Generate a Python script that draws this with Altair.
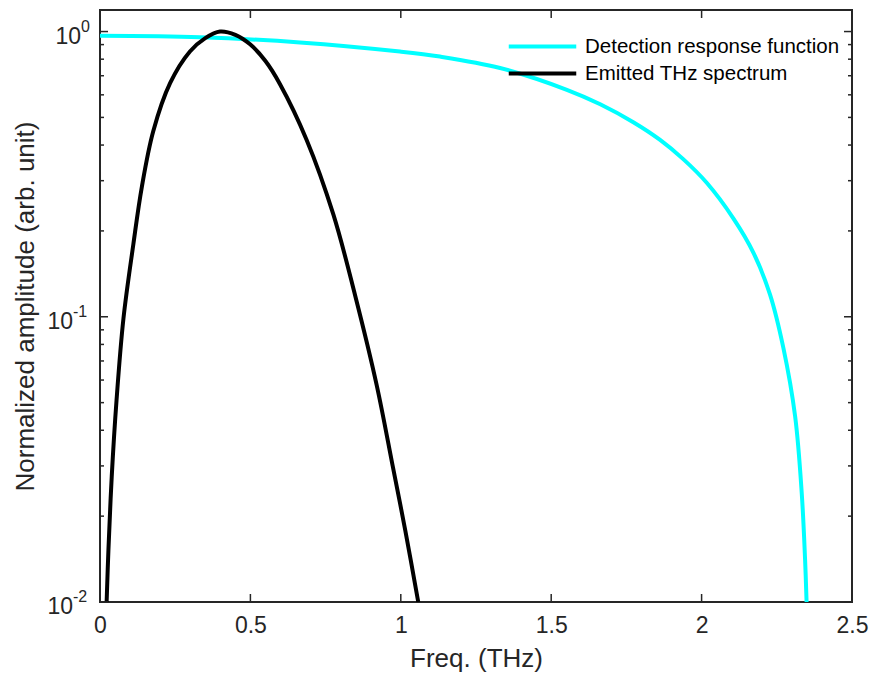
import altair as alt
import pandas as pd

# ---------------- data ----------------
det_freq = [0.0, 0.332, 0.665, 0.997, 1.13, 1.33, 1.552, 1.663, 1.773, 1.862, 1.939,
            2.017, 2.106, 2.172, 2.227, 2.272, 2.311, 2.333, 2.344, 2.349]
det_amp = [0.966, 0.955, 0.916, 0.851, 0.817, 0.745, 0.625, 0.556, 0.481, 0.417, 0.357,
           0.295, 0.221, 0.168, 0.120, 0.0776, 0.0447, 0.0240, 0.0141, 0.01]

emi_freq = [0.022, 0.028, 0.039, 0.055, 0.078, 0.111, 0.139, 0.177, 0.233, 0.299, 0.35,
            0.399, 0.45, 0.499, 0.55, 0.598, 0.687, 0.776, 0.848, 0.92, 0.973, 1.015, 1.058]
emi_amp = [0.01, 0.0152, 0.0275, 0.051, 0.0987, 0.18, 0.285, 0.447, 0.659, 0.851, 0.948,
           1.0, 0.974, 0.902, 0.788, 0.655, 0.417, 0.228, 0.119, 0.0575, 0.0300, 0.0178, 0.01]

series_names = ["Detection response function", "Emitted THz spectrum"]
series_colors = ["#00FFFF", "#000000"]

x_ticks = [0, 0.5, 1, 1.5, 2, 2.5]
y_major = [0.01, 0.1, 1]
y_exp = ["-2", "-1", "0"]
y_minor = [0.02, 0.03, 0.04, 0.05, 0.06, 0.07, 0.08, 0.09,
           0.2, 0.3, 0.4, 0.5, 0.6, 0.7, 0.8, 0.9]

x_domain = [0, 2.5]
y_domain = [0.01, 1.19]

# ---------------- tables ----------------
lines = pd.concat([
    pd.DataFrame({"freq": det_freq, "amp": det_amp, "series": series_names[0]}),
    pd.DataFrame({"freq": emi_freq, "amp": emi_amp, "series": series_names[1]}),
], ignore_index=True)
xt = pd.DataFrame({"freq": x_ticks})
ymaj = pd.DataFrame({"amp": y_major, "exp": y_exp})
ymin = pd.DataFrame({"amp": y_minor})

W, H = 752, 592
FONT = "Liberation Sans"
AX = "#262626"

xs = alt.Scale(domain=x_domain, nice=False, zero=False)
ys = alt.Scale(type="log", domain=y_domain, nice=False)

X_TITLE = "Freq. (THz)"
Y_TITLE = "Normalized amplitude (arb. unit)"

curves = alt.Chart(lines).mark_line(strokeWidth=4, clip=True, interpolate="catmull-rom").encode(
    x=alt.X("freq:Q", scale=xs,
            axis=alt.Axis(values=x_ticks, format="~g", ticks=False, domain=False, grid=False,
                          labelFlush=False, labelFont=FONT, labelFontSize=23, labelColor=AX,
                          labelPadding=12,
                          title=X_TITLE, titleFont=FONT, titleFontSize=26,
                          titleFontWeight="normal", titleColor=AX, titlePadding=8)),
    y=alt.Y("amp:Q", scale=ys,
            axis=alt.Axis(labels=False, ticks=False, domain=False, grid=False,
                          title=Y_TITLE, titleFont=FONT,
                          titleFontSize=26, titleFontWeight="normal", titleColor=AX,
                          titlePadding=62)),
    color=alt.Color("series:N",
                    scale=alt.Scale(domain=series_names, range=series_colors),
                    legend=alt.Legend(title=None, orient="none", legendX=427, legendY=21,
                                      symbolType="M-2.5,0H2.5", symbolSize=729,
                                      symbolStrokeWidth=4, labelFont=FONT, labelFontSize=20.5,
                                      labelColor="black", labelOffset=27, rowPadding=1,
                                      padding=0, labelLimit=400)),
)

def xrule(y0, y1):
    return alt.Chart(xt).mark_rule(color=AX, strokeWidth=1.5).encode(
        x=alt.X("freq:Q", scale=xs, title=X_TITLE), y=alt.value(y0), y2=alt.value(y1))

def yrule(df, x0, x1):
    return alt.Chart(df).mark_rule(color=AX, strokeWidth=1.5).encode(
        y=alt.Y("amp:Q", scale=ys, title=Y_TITLE), x=alt.value(x0), x2=alt.value(x1))

ticks = [
    xrule(H, H - 8), xrule(0, 8),
    yrule(ymaj, 0, 8), yrule(ymaj, W, W - 8),
    yrule(ymin, 0, 4), yrule(ymin, W, W - 4),
]

def ylab(cond, xpos):
    base = alt.Chart(ymaj).transform_filter(cond)
    ten = base.mark_text(text="10", align="right", baseline="alphabetic", dy=12,
                         font=FONT, fontSize=23, color=AX).encode(
        y=alt.Y("amp:Q", scale=ys, title=Y_TITLE), x=alt.value(xpos))
    ex = base.mark_text(align="left", baseline="alphabetic", dy=0,
                        font=FONT, fontSize=16, color=AX).encode(
        y=alt.Y("amp:Q", scale=ys, title=Y_TITLE), x=alt.value(xpos), text="exp:N")
    return [ten, ex]

labels = ylab("datum.exp == '0'", -19) + ylab("datum.exp != '0'", -27)

chart = alt.layer(curves, *ticks, *labels).properties(
    width=W, height=H,
    autosize=alt.AutoSizeParams(type="none"),
    padding={"left": 100, "top": 10, "right": 19, "bottom": 75},
    background="white",
).configure_view(stroke=AX, strokeWidth=2)

chart.save("out.html", embed_options={"renderer": "svg", "actions": False})
